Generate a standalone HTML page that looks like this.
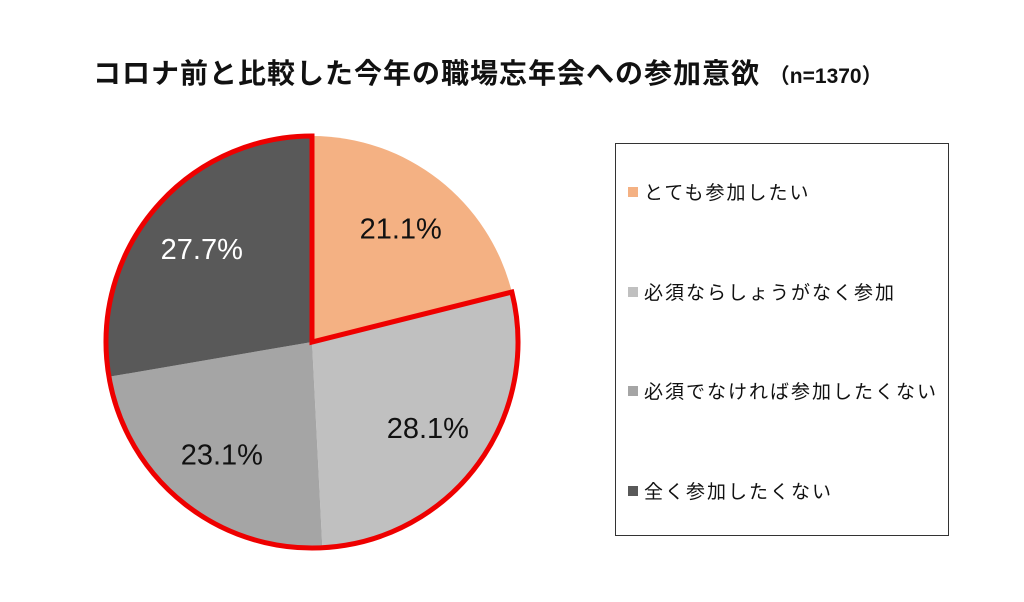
<!DOCTYPE html>
<html><head><meta charset="utf-8"><style>
body{margin:0;background:#fff;width:1024px;height:602px;overflow:hidden;font-family:"Liberation Sans","Noto Sans CJK JP",sans-serif}
#title{position:absolute;left:93px;top:52px;font-size:28px;letter-spacing:1px;font-weight:bold;color:#111;white-space:nowrap}
#title small{font-size:21px;letter-spacing:0}
#legend{position:absolute;left:615px;top:143px;width:334px;height:393px;border:1.5px solid #333;box-sizing:border-box}
.le{position:absolute;left:12px;font-size:19px;letter-spacing:2px;color:#111;white-space:nowrap}
.le i{display:inline-block;width:10px;height:10px;margin-right:6px;vertical-align:2px}
</style></head><body>
<div id="title">コロナ前と比較した今年の職場忘年会への参加意欲 <small>（n=1370）</small></div>
<svg id="pie" width="1024" height="602" style="position:absolute;left:0;top:0"></svg>
<div id="legend">
<div class="le" style="top:34px"><i style="background:#f4b183"></i>とても参加したい</div>
<div class="le" style="top:134px"><i style="background:#c0c0c0"></i>必須ならしょうがなく参加</div>
<div class="le" style="top:233px"><i style="background:#a5a5a5"></i>必須でなければ参加したくない</div>
<div class="le" style="top:333px"><i style="background:#595959"></i>全く参加したくない</div>
</div>
<script>
const categories=["とても参加したい","必須ならしょうがなく参加","必須でなければ参加したくない","全く参加したくない"];
const values=[21.1,28.1,23.1,27.7];
const colors=["#f4b183","#c0c0c0","#a5a5a5","#595959"];
const labelColors=["#111","#111","#111","#fff"];
const svg=document.getElementById('pie');
const NS="http://www.w3.org/2000/svg";
const cx=312,cy=342,r=206;
const total=values.reduce((a,b)=>a+b,0);
function pt(a,rr){return [cx+rr*Math.sin(a),cy-rr*Math.cos(a)];}
let a0=0;const angles=[];
values.forEach((v,i)=>{
 const a1=a0+v/total*2*Math.PI;angles.push([a0,a1]);
 const p0=pt(a0,r),p1=pt(a1,r);
 const path=document.createElementNS(NS,'path');
 path.setAttribute('d',`M${cx},${cy}L${p0[0]},${p0[1]}A${r},${r} 0 ${a1-a0>Math.PI?1:0} 1 ${p1[0]},${p1[1]}Z`);
 path.setAttribute('fill',colors[i]);
 
 
 svg.appendChild(path);
 const m=(a0+a1)/2,lp=pt(m,r*0.7);
 const t=document.createElementNS(NS,'text');
 t.setAttribute('x',lp[0]);t.setAttribute('y',lp[1]+10);
 t.setAttribute('text-anchor','middle');t.setAttribute('font-size','29');
 t.setAttribute('fill',labelColors[i]);
 t.textContent=values[i].toFixed(1)+'%';
 
 
 svg.appendChild(t);
 a0=a1;
});
const s=angles[1][0];
const ps=pt(s,r);
const o=document.createElementNS(NS,'path');
o.setAttribute('d',`M${cx},${cy-r}L${cx},${cy}L${ps[0]},${ps[1]}A${r},${r} 0 1 1 ${cx},${cy-r}Z`);
o.setAttribute('fill','none');o.setAttribute('stroke','#e00');o.setAttribute('stroke-width','5');
o.setAttribute('stroke-linejoin','miter');


svg.appendChild(o);
</script>
</body></html>
